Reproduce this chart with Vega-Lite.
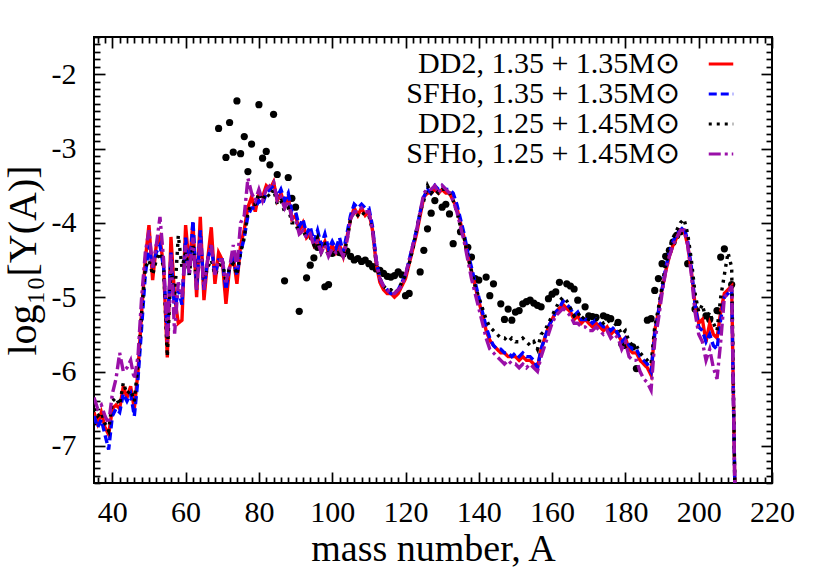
{
  "$schema": "https://vega.github.io/schema/vega-lite/v6.json",
  "width": 678,
  "height": 446,
  "autosize": {"type": "none"},
  "padding": {"left": 94, "top": 37, "right": 58, "bottom": 98},
  "background": "white",
  "config": {
    "view": {"stroke": "black", "strokeWidth": 2},
    "font": "Liberation Serif",
    "legend": {
      "labelFont": "Liberation Serif",
      "labelFontSize": 30,
      "labelColor": "black",
      "labelAlign": "right",
      "labelOffset": -56,
      "symbolType": "stroke",
      "symbolSize": 600,
      "symbolStrokeWidth": 3.2,
      "rowPadding": -3,
      "padding": 0,
      "orient": "none",
      "legendX": 612,
      "legendY": 12,
      "labelLimit": 400
    }
  },
  "datasets": {
    "obs": [
      {"A":69,"v":-2.73},{"A":71,"v":-3.12},{"A":72,"v":-2.65},{"A":73,"v":-3.05},{"A":74,"v":-2.36},{"A":75,"v":-3.07},{"A":76,"v":-2.84},{"A":77,"v":-3.31},{"A":78,"v":-2.94},{"A":80,"v":-2.41},{"A":81,"v":-3.13},{"A":82,"v":-3.04},{"A":83,"v":-3.22},{"A":84,"v":-2.54},{"A":85,"v":-3.35},{"A":87,"v":-4.78},{"A":88,"v":-3.39},{"A":89,"v":-3.67},{"A":90,"v":-3.79},{"A":91,"v":-5.19},{"A":93,"v":-4.74},{"A":94,"v":-4.57},{"A":95,"v":-4.47},{"A":96,"v":-4.33},{"A":98,"v":-4.86},{"A":99,"v":-4.83},{"A":100,"v":-4.41},{"A":101,"v":-4.37},{"A":102,"v":-4.4},{"A":103,"v":-4.42},{"A":104,"v":-4.38},{"A":105,"v":-4.45},{"A":106,"v":-4.5},{"A":107,"v":-4.48},{"A":108,"v":-4.52},{"A":109,"v":-4.5},{"A":110,"v":-4.55},{"A":111,"v":-4.59},{"A":112,"v":-4.62},{"A":113,"v":-4.64},{"A":114,"v":-4.68},{"A":115,"v":-4.72},{"A":116,"v":-4.73},{"A":117,"v":-4.71},{"A":118,"v":-4.66},{"A":119,"v":-4.7},{"A":120,"v":-4.98},{"A":121,"v":-4.95},{"A":124,"v":-4.66},{"A":125,"v":-4.37},{"A":126,"v":-4.08},{"A":127,"v":-3.87},{"A":128,"v":-3.7},{"A":130,"v":-3.79},{"A":131,"v":-3.75},{"A":132,"v":-3.88},{"A":133,"v":-4.28},{"A":135,"v":-4.12},{"A":137,"v":-4.33},{"A":138,"v":-4.46},{"A":139,"v":-4.75},{"A":140,"v":-4.77},{"A":142,"v":-4.73},{"A":143,"v":-4.98},{"A":144,"v":-4.82},{"A":146,"v":-5.09},{"A":147,"v":-5.3},{"A":148,"v":-5.16},{"A":149,"v":-5.31},{"A":150,"v":-5.2},{"A":151,"v":-5.18},{"A":152,"v":-5.09},{"A":153,"v":-5.06},{"A":154,"v":-5.04},{"A":155,"v":-5.08},{"A":156,"v":-5.11},{"A":157,"v":-5.13},{"A":159,"v":-5.02},{"A":160,"v":-4.96},{"A":161,"v":-4.93},{"A":162,"v":-4.8},{"A":164,"v":-4.82},{"A":165,"v":-4.85},{"A":166,"v":-4.89},{"A":167,"v":-5.04},{"A":169,"v":-5.13},{"A":170,"v":-5.25},{"A":171,"v":-5.26},{"A":172,"v":-5.27},{"A":174,"v":-5.25},{"A":175,"v":-5.27},{"A":176,"v":-5.29},{"A":178,"v":-5.34},{"A":179,"v":-5.63},{"A":180,"v":-5.65},{"A":182,"v":-5.67},{"A":183,"v":-5.96},{"A":186,"v":-5.31},{"A":187,"v":-5.29},{"A":188,"v":-4.91},{"A":189,"v":-4.75},{"A":190,"v":-4.55},{"A":191,"v":-4.45},{"A":192,"v":-4.37},{"A":193,"v":-4.26},{"A":194,"v":-4.17},{"A":195,"v":-4.12},{"A":197,"v":-4.55},{"A":199,"v":-5.16},{"A":202,"v":-5.25},{"A":203,"v":-5.3},{"A":205,"v":-5.18},{"A":206,"v":-4.46},{"A":207,"v":-4.35},{"A":209,"v":-4.83}
    ],
    "mod": [
      {"A":35,"r":-6.55,"b":-6.6,"k":-6.5,"p":-6.35},
      {"A":36,"r":-6.7,"b":-6.75,"k":-6.6,"p":-6.5},
      {"A":37,"r":-6.55,"b":-6.65,"k":-6.55,"p":-6.45},
      {"A":38,"r":-6.75,"b":-6.85,"k":-6.7,"p":-6.6},
      {"A":39,"r":-6.85,"b":-7.05,"k":-6.8,"p":-6.7},
      {"A":40,"r":-6.5,"b":-6.6,"k":-6.4,"p":-6.3},
      {"A":41,"r":-6.45,"b":-6.5,"k":-6.35,"p":-6.1},
      {"A":42,"r":-6.5,"b":-6.55,"k":-6.45,"p":-5.75},
      {"A":43,"r":-6.2,"b":-6.3,"k":-6.15,"p":-6.0},
      {"A":44,"r":-6.35,"b":-6.4,"k":-6.3,"p":-5.95},
      {"A":45,"r":-6.2,"b":-6.3,"k":-6.25,"p":-5.85},
      {"A":46,"r":-6.5,"b":-6.6,"k":-6.4,"p":-6.1},
      {"A":47,"r":-6.0,"b":-6.1,"k":-5.9,"p":-5.8},
      {"A":48,"r":-5.2,"b":-5.4,"k":-5.2,"p":-5.0},
      {"A":49,"r":-4.5,"b":-4.7,"k":-4.6,"p":-4.4},
      {"A":50,"r":-4.03,"b":-4.3,"k":-4.5,"p":-4.1},
      {"A":51,"r":-4.77,"b":-4.6,"k":-4.7,"p":-4.6},
      {"A":52,"r":-4.3,"b":-4.4,"k":-4.5,"p":-4.3},
      {"A":53,"r":-4.2,"b":-4.3,"k":-4.4,"p":-3.92},
      {"A":54,"r":-4.6,"b":-4.6,"k":-4.6,"p":-4.5},
      {"A":55,"r":-5.81,"b":-5.5,"k":-5.8,"p":-5.6},
      {"A":56,"r":-4.19,"b":-4.4,"k":-4.6,"p":-4.4},
      {"A":57,"r":-5.0,"b":-5.2,"k":-5.0,"p":-5.49},
      {"A":58,"r":-5.35,"b":-4.9,"k":-4.17,"p":-4.8},
      {"A":59,"r":-5.31,"b":-5.1,"k":-4.6,"p":-5.0},
      {"A":60,"r":-4.03,"b":-4.2,"k":-4.4,"p":-4.3},
      {"A":61,"r":-4.6,"b":-4.7,"k":-4.7,"p":-4.7},
      {"A":62,"r":-4.0,"b":-3.97,"k":-4.3,"p":-4.2},
      {"A":63,"r":-5.0,"b":-4.9,"k":-4.8,"p":-4.9},
      {"A":64,"r":-3.92,"b":-4.1,"k":-4.3,"p":-4.2},
      {"A":65,"r":-5.04,"b":-4.9,"k":-4.8,"p":-4.9},
      {"A":66,"r":-4.5,"b":-4.5,"k":-4.6,"p":-4.5},
      {"A":67,"r":-4.06,"b":-4.3,"k":-4.5,"p":-4.3},
      {"A":68,"r":-4.82,"b":-4.7,"k":-4.7,"p":-4.7},
      {"A":69,"r":-4.4,"b":-4.5,"k":-4.6,"p":-4.5},
      {"A":70,"r":-4.5,"b":-4.5,"k":-4.5,"p":-4.5},
      {"A":71,"r":-5.09,"b":-4.9,"k":-4.8,"p":-4.8},
      {"A":72,"r":-4.6,"b":-4.6,"k":-4.6,"p":-4.6},
      {"A":73,"r":-4.46,"b":-4.5,"k":-4.55,"p":-4.3},
      {"A":74,"r":-4.82,"b":-4.7,"k":-4.7,"p":-4.6},
      {"A":75,"r":-4.3,"b":-4.4,"k":-4.4,"p":-4.0},
      {"A":76,"r":-4.09,"b":-4.2,"k":-4.2,"p":-3.9},
      {"A":77,"r":-3.79,"b":-3.9,"k":-3.85,"p":-3.4},
      {"A":78,"r":-3.65,"b":-3.8,"k":-3.75,"p":-3.6},
      {"A":79,"r":-3.85,"b":-3.8,"k":-3.75,"p":-3.7},
      {"A":80,"r":-3.6,"b":-3.7,"k":-3.6,"p":-3.55},
      {"A":81,"r":-3.65,"b":-3.75,"k":-3.7,"p":-3.7},
      {"A":82,"r":-3.5,"b":-3.6,"k":-3.6,"p":-3.55},
      {"A":83,"r":-3.55,"b":-3.55,"k":-3.65,"p":-3.5},
      {"A":84,"r":-3.45,"b":-3.5,"k":-3.55,"p":-3.45},
      {"A":85,"r":-3.7,"b":-3.65,"k":-3.75,"p":-3.7},
      {"A":86,"r":-3.6,"b":-3.55,"k":-3.7,"p":-3.65},
      {"A":87,"r":-3.75,"b":-3.7,"k":-3.85,"p":-3.8},
      {"A":88,"r":-3.65,"b":-3.6,"k":-3.8,"p":-3.7},
      {"A":89,"r":-3.95,"b":-3.85,"k":-4.0,"p":-3.95},
      {"A":90,"r":-3.9,"b":-3.85,"k":-4.0,"p":-3.95},
      {"A":91,"r":-4.1,"b":-4.05,"k":-4.15,"p":-4.15},
      {"A":92,"r":-4.0,"b":-3.95,"k":-4.1,"p":-4.1},
      {"A":93,"r":-4.2,"b":-4.15,"k":-4.2,"p":-4.2},
      {"A":94,"r":-4.15,"b":-4.05,"k":-4.2,"p":-4.15},
      {"A":95,"r":-4.3,"b":-4.25,"k":-4.3,"p":-4.3},
      {"A":96,"r":-4.2,"b":-4.1,"k":-4.2,"p":-4.25},
      {"A":97,"r":-4.35,"b":-4.3,"k":-4.4,"p":-4.4},
      {"A":98,"r":-4.25,"b":-4.15,"k":-4.3,"p":-4.3},
      {"A":99,"r":-4.4,"b":-4.35,"k":-4.45,"p":-4.45},
      {"A":100,"r":-4.3,"b":-4.25,"k":-4.35,"p":-4.35},
      {"A":101,"r":-4.4,"b":-4.35,"k":-4.45,"p":-4.4},
      {"A":102,"r":-4.3,"b":-4.2,"k":-4.35,"p":-4.35},
      {"A":103,"r":-4.45,"b":-4.4,"k":-4.45,"p":-4.45},
      {"A":104,"r":-4.2,"b":-4.15,"k":-4.25,"p":-4.25},
      {"A":105,"r":-3.95,"b":-3.9,"k":-3.95,"p":-3.95},
      {"A":106,"r":-3.8,"b":-3.75,"k":-3.85,"p":-3.85},
      {"A":107,"r":-3.9,"b":-3.8,"k":-3.9,"p":-3.85},
      {"A":108,"r":-3.8,"b":-3.75,"k":-3.85,"p":-3.8},
      {"A":109,"r":-3.9,"b":-3.8,"k":-3.9,"p":-3.85},
      {"A":110,"r":-3.85,"b":-3.8,"k":-3.9,"p":-3.85},
      {"A":111,"r":-4.1,"b":-4.05,"k":-4.1,"p":-4.1},
      {"A":112,"r":-4.55,"b":-4.5,"k":-4.55,"p":-4.5},
      {"A":113,"r":-4.8,"b":-4.75,"k":-4.75,"p":-4.75},
      {"A":114,"r":-4.9,"b":-4.85,"k":-4.85,"p":-4.85},
      {"A":115,"r":-4.95,"b":-4.9,"k":-4.9,"p":-4.9},
      {"A":116,"r":-4.95,"b":-4.95,"k":-4.9,"p":-4.95},
      {"A":117,"r":-5.0,"b":-4.95,"k":-4.95,"p":-4.95},
      {"A":118,"r":-4.95,"b":-4.9,"k":-4.9,"p":-4.9},
      {"A":119,"r":-4.85,"b":-4.8,"k":-4.8,"p":-4.85},
      {"A":120,"r":-4.75,"b":-4.7,"k":-4.7,"p":-4.7},
      {"A":121,"r":-4.55,"b":-4.5,"k":-4.55,"p":-4.5},
      {"A":122,"r":-4.35,"b":-4.3,"k":-4.35,"p":-4.3},
      {"A":123,"r":-4.15,"b":-4.1,"k":-4.1,"p":-4.1},
      {"A":124,"r":-3.9,"b":-3.85,"k":-3.85,"p":-3.85},
      {"A":125,"r":-3.65,"b":-3.65,"k":-3.7,"p":-3.6},
      {"A":126,"r":-3.6,"b":-3.55,"k":-3.5,"p":-3.55},
      {"A":127,"r":-3.6,"b":-3.6,"k":-3.6,"p":-3.55},
      {"A":128,"r":-3.55,"b":-3.5,"k":-3.55,"p":-3.5},
      {"A":129,"r":-3.6,"b":-3.55,"k":-3.6,"p":-3.6},
      {"A":130,"r":-3.55,"b":-3.5,"k":-3.55,"p":-3.5},
      {"A":131,"r":-3.6,"b":-3.55,"k":-3.55,"p":-3.55},
      {"A":132,"r":-3.6,"b":-3.55,"k":-3.6,"p":-3.6},
      {"A":133,"r":-3.7,"b":-3.6,"k":-3.7,"p":-3.7},
      {"A":134,"r":-3.8,"b":-3.75,"k":-3.85,"p":-3.85},
      {"A":135,"r":-4.0,"b":-3.95,"k":-4.05,"p":-4.05},
      {"A":136,"r":-4.2,"b":-4.15,"k":-4.2,"p":-4.25},
      {"A":137,"r":-4.45,"b":-4.4,"k":-4.45,"p":-4.5},
      {"A":138,"r":-4.65,"b":-4.6,"k":-4.65,"p":-4.75},
      {"A":139,"r":-4.85,"b":-4.8,"k":-4.85,"p":-4.95},
      {"A":140,"r":-5.05,"b":-5.0,"k":-5.0,"p":-5.15},
      {"A":141,"r":-5.25,"b":-5.2,"k":-5.15,"p":-5.35},
      {"A":142,"r":-5.45,"b":-5.4,"k":-5.3,"p":-5.55},
      {"A":143,"r":-5.58,"b":-5.55,"k":-5.4,"p":-5.7},
      {"A":144,"r":-5.65,"b":-5.65,"k":-5.45,"p":-5.75},
      {"A":145,"r":-5.7,"b":-5.7,"k":-5.5,"p":-5.8},
      {"A":146,"r":-5.75,"b":-5.7,"k":-5.55,"p":-5.85},
      {"A":147,"r":-5.75,"b":-5.75,"k":-5.55,"p":-5.9},
      {"A":148,"r":-5.8,"b":-5.75,"k":-5.6,"p":-5.85},
      {"A":149,"r":-5.8,"b":-5.8,"k":-5.55,"p":-5.9},
      {"A":150,"r":-5.8,"b":-5.75,"k":-5.6,"p":-5.9},
      {"A":151,"r":-5.85,"b":-5.8,"k":-5.6,"p":-5.95},
      {"A":152,"r":-5.8,"b":-5.75,"k":-5.55,"p":-5.9},
      {"A":153,"r":-5.85,"b":-5.8,"k":-5.6,"p":-5.95},
      {"A":154,"r":-5.85,"b":-5.8,"k":-5.65,"p":-5.9},
      {"A":155,"r":-5.9,"b":-5.85,"k":-5.6,"p":-5.95},
      {"A":156,"r":-5.95,"b":-5.95,"k":-5.7,"p":-6.0},
      {"A":157,"r":-5.7,"b":-5.7,"k":-5.5,"p":-5.8},
      {"A":158,"r":-5.55,"b":-5.55,"k":-5.45,"p":-5.65},
      {"A":159,"r":-5.4,"b":-5.4,"k":-5.35,"p":-5.5},
      {"A":160,"r":-5.3,"b":-5.3,"k":-5.25,"p":-5.35},
      {"A":161,"r":-5.2,"b":-5.2,"k":-5.15,"p":-5.25},
      {"A":162,"r":-5.15,"b":-5.15,"k":-5.05,"p":-5.2},
      {"A":163,"r":-5.1,"b":-5.05,"k":-5.0,"p":-5.15},
      {"A":164,"r":-5.15,"b":-5.1,"k":-5.05,"p":-5.2},
      {"A":165,"r":-5.2,"b":-5.15,"k":-5.15,"p":-5.25},
      {"A":166,"r":-5.3,"b":-5.25,"k":-5.25,"p":-5.35},
      {"A":167,"r":-5.25,"b":-5.2,"k":-5.2,"p":-5.35},
      {"A":168,"r":-5.35,"b":-5.3,"k":-5.3,"p":-5.4},
      {"A":169,"r":-5.3,"b":-5.3,"k":-5.25,"p":-5.4},
      {"A":170,"r":-5.35,"b":-5.3,"k":-5.3,"p":-5.45},
      {"A":171,"r":-5.4,"b":-5.35,"k":-5.3,"p":-5.45},
      {"A":172,"r":-5.35,"b":-5.3,"k":-5.3,"p":-5.4},
      {"A":173,"r":-5.4,"b":-5.35,"k":-5.3,"p":-5.45},
      {"A":174,"r":-5.45,"b":-5.4,"k":-5.35,"p":-5.5},
      {"A":175,"r":-5.4,"b":-5.4,"k":-5.3,"p":-5.45},
      {"A":176,"r":-5.5,"b":-5.45,"k":-5.35,"p":-5.55},
      {"A":177,"r":-5.45,"b":-5.4,"k":-5.35,"p":-5.5},
      {"A":178,"r":-5.5,"b":-5.5,"k":-5.4,"p":-5.55},
      {"A":179,"r":-5.6,"b":-5.6,"k":-5.5,"p":-5.7},
      {"A":180,"r":-5.55,"b":-5.55,"k":-5.45,"p":-5.6},
      {"A":181,"r":-5.7,"b":-5.65,"k":-5.6,"p":-5.8},
      {"A":182,"r":-5.75,"b":-5.7,"k":-5.65,"p":-5.85},
      {"A":183,"r":-5.75,"b":-5.7,"k":-5.65,"p":-5.85},
      {"A":184,"r":-5.85,"b":-5.8,"k":-5.75,"p":-6.0},
      {"A":185,"r":-5.9,"b":-5.85,"k":-5.8,"p":-6.1},
      {"A":186,"r":-5.95,"b":-5.9,"k":-5.85,"p":-6.15},
      {"A":187,"r":-6.05,"b":-6.0,"k":-5.9,"p":-6.25},
      {"A":188,"r":-5.45,"b":-5.5,"k":-5.4,"p":-5.6},
      {"A":189,"r":-5.2,"b":-5.2,"k":-5.15,"p":-5.3},
      {"A":190,"r":-4.9,"b":-4.9,"k":-4.85,"p":-4.95},
      {"A":191,"r":-4.65,"b":-4.6,"k":-4.55,"p":-4.65},
      {"A":192,"r":-4.45,"b":-4.4,"k":-4.35,"p":-4.45},
      {"A":193,"r":-4.3,"b":-4.25,"k":-4.2,"p":-4.3},
      {"A":194,"r":-4.2,"b":-4.15,"k":-4.1,"p":-4.2},
      {"A":195,"r":-4.1,"b":-4.1,"k":-4.0,"p":-4.1},
      {"A":196,"r":-4.1,"b":-4.05,"k":-3.95,"p":-4.1},
      {"A":197,"r":-4.3,"b":-4.25,"k":-4.15,"p":-4.3},
      {"A":198,"r":-4.65,"b":-4.6,"k":-4.5,"p":-4.7},
      {"A":199,"r":-5.1,"b":-5.1,"k":-4.95,"p":-5.2},
      {"A":200,"r":-5.35,"b":-5.4,"k":-5.2,"p":-5.5},
      {"A":201,"r":-5.3,"b":-5.45,"k":-5.1,"p":-5.6},
      {"A":202,"r":-5.6,"b":-5.6,"k":-5.3,"p":-5.85},
      {"A":203,"r":-5.35,"b":-5.5,"k":-5.2,"p":-5.7},
      {"A":204,"r":-5.5,"b":-5.65,"k":-5.35,"p":-5.95},
      {"A":205,"r":-5.55,"b":-5.7,"k":-5.45,"p":-6.1},
      {"A":206,"r":-5.2,"b":-5.3,"k":-5.0,"p":-5.6},
      {"A":207,"r":-4.95,"b":-5.0,"k":-4.7,"p":-5.0},
      {"A":208,"r":-4.9,"b":-4.95,"k":-4.4,"p":-4.95},
      {"A":209,"r":-4.85,"b":-4.9,"k":-4.6,"p":-4.85},
      {"A":210,"r":-8,"b":-8,"k":-8,"p":-8}
    ]
  },
  "layer": [
    {
      "data": {"name": "obs"},
      "mark": {"type": "circle", "size": 52, "color": "black", "opacity": 1, "clip": true},
      "encoding": {
        "x": {
          "field": "A", "type": "quantitative",
          "scale": {"domain": [35, 220], "nice": false, "zero": false},
          "axis": {
            "orient": "bottom",
            "values": [36,38,40,42,44,46,48,50,52,54,56,58,60,62,64,66,68,70,72,74,76,78,80,82,84,86,88,90,92,94,96,98,100,102,104,106,108,110,112,114,116,118,120,122,124,126,128,130,132,134,136,138,140,142,144,146,148,150,152,154,156,158,160,162,164,166,168,170,172,174,176,178,180,182,184,186,188,190,192,194,196,198,200,202,204,206,208,210,212,214,216,218,220],
            "tickSize": {"condition": {"test": "datum.value % 20 === 0", "value": -11}, "value": -6},
            "tickWidth": 1.7,
            "tickColor": "black",
            "domain": false,
            "grid": false,
            "labelExpr": "datum.value % 20 === 0 ? datum.label : ''",
            "labelOverlap": false,
            "labelFlush": false,
            "labelBound": false,
            "labelFont": "Liberation Serif",
            "labelFontSize": 30,
            "labelColor": "black",
            "labelPadding": 25,
            "title": "mass number, A",
            "titleFont": "Liberation Serif",
            "titleFontSize": 38,
            "titleFontWeight": "normal",
            "titleColor": "black",
            "titlePadding": -2
          }
        },
        "y": {
          "field": "v", "type": "quantitative",
          "scale": {"domain": [-7.5, -1.5], "nice": false, "zero": false},
          "axis": {
            "orient": "left",
            "values": [-7.5,-7.4,-7.3,-7.2,-7.1,-7,-6.9,-6.8,-6.7,-6.6,-6.5,-6.4,-6.3,-6.2,-6.1,-6,-5.9,-5.8,-5.7,-5.6,-5.5,-5.4,-5.3,-5.2,-5.1,-5,-4.9,-4.8,-4.7,-4.6,-4.5,-4.4,-4.3,-4.2,-4.1,-4,-3.9,-3.8,-3.7,-3.6,-3.5,-3.4,-3.3,-3.2,-3.1,-3,-2.9,-2.8,-2.7,-2.6,-2.5,-2.4,-2.3,-2.2,-2.1,-2,-1.9,-1.8,-1.7,-1.6,-1.5],
            "tickSize": {"condition": {"test": "abs(datum.value - round(datum.value)) < 0.01", "value": -11}, "value": -6},
            "tickWidth": 1.7,
            "tickColor": "black",
            "domain": false,
            "grid": false,
            "labelExpr": "abs(datum.value - round(datum.value)) < 0.01 ? '-' + abs(round(datum.value)) : ''",
            "labelOverlap": false,
            "labelFlush": false,
            "labelBound": false,
            "labelFont": "Liberation Serif",
            "labelFontSize": 30,
            "labelColor": "black",
            "labelPadding": 29,
            "title": "log₁₀[Y(A)]",
            "titleFont": "Liberation Serif",
            "titleFontSize": 40,
            "titleFontWeight": "normal",
            "titleColor": "black",
            "titlePadding": 8
          }
        }
      }
    },
    {
      "data": {"name": "mod"},
      "transform": [{"fold": ["r", "b", "k", "p"], "as": ["s", "v"]}],
      "mark": {"type": "line", "strokeWidth": 3.4, "clip": true},
      "encoding": {
        "x": {
          "field": "A", "type": "quantitative",
          "axis": {
            "orient": "top",
            "values": [36,38,40,42,44,46,48,50,52,54,56,58,60,62,64,66,68,70,72,74,76,78,80,82,84,86,88,90,92,94,96,98,100,102,104,106,108,110,112,114,116,118,120,122,124,126,128,130,132,134,136,138,140,142,144,146,148,150,152,154,156,158,160,162,164,166,168,170,172,174,176,178,180,182,184,186,188,190,192,194,196,198,200,202,204,206,208,210,212,214,216,218,220],
            "tickSize": {"condition": {"test": "datum.value % 20 === 0", "value": -11}, "value": -6},
            "tickWidth": 1.7,
            "tickColor": "black",
            "domain": false,
            "grid": false,
            "labels": false,
            "title": null
          }
        },
        "y": {
          "field": "v", "type": "quantitative",
          "axis": {
            "orient": "right",
            "values": [-7.5,-7.4,-7.3,-7.2,-7.1,-7,-6.9,-6.8,-6.7,-6.6,-6.5,-6.4,-6.3,-6.2,-6.1,-6,-5.9,-5.8,-5.7,-5.6,-5.5,-5.4,-5.3,-5.2,-5.1,-5,-4.9,-4.8,-4.7,-4.6,-4.5,-4.4,-4.3,-4.2,-4.1,-4,-3.9,-3.8,-3.7,-3.6,-3.5,-3.4,-3.3,-3.2,-3.1,-3,-2.9,-2.8,-2.7,-2.6,-2.5,-2.4,-2.3,-2.2,-2.1,-2,-1.9,-1.8,-1.7,-1.6,-1.5],
            "tickSize": {"condition": {"test": "abs(datum.value - round(datum.value)) < 0.01", "value": -11}, "value": -6},
            "tickWidth": 1.7,
            "tickColor": "black",
            "domain": false,
            "grid": false,
            "labels": false,
            "title": null
          }
        },
        "color": {
          "field": "s", "type": "nominal",
          "scale": {"domain": ["r", "b", "k", "p"], "range": ["#ff0000", "#0000ff", "#000000", "#9a0fa8"]},
          "legend": {"title": null, "labelExpr": "datum.label === 'r' ? 'DD2, 1.35 + 1.35M⊙' : datum.label === 'b' ? 'SFHo, 1.35 + 1.35M⊙' : datum.label === 'k' ? 'DD2, 1.25 + 1.45M⊙' : 'SFHo, 1.25 + 1.45M⊙'"}
        },
        "strokeDash": {
          "field": "s", "type": "nominal",
          "scale": {"domain": ["r", "b", "k", "p"], "range": [[1, 0], [8, 4], [3, 5], [12, 4, 3, 4]]},
          "legend": {"title": null, "labelExpr": "datum.label === 'r' ? 'DD2, 1.35 + 1.35M⊙' : datum.label === 'b' ? 'SFHo, 1.35 + 1.35M⊙' : datum.label === 'k' ? 'DD2, 1.25 + 1.45M⊙' : 'SFHo, 1.25 + 1.45M⊙'"}
        }
      }
    }
  ],
  "resolve": {"axis": {"x": "independent", "y": "independent"}}
}
